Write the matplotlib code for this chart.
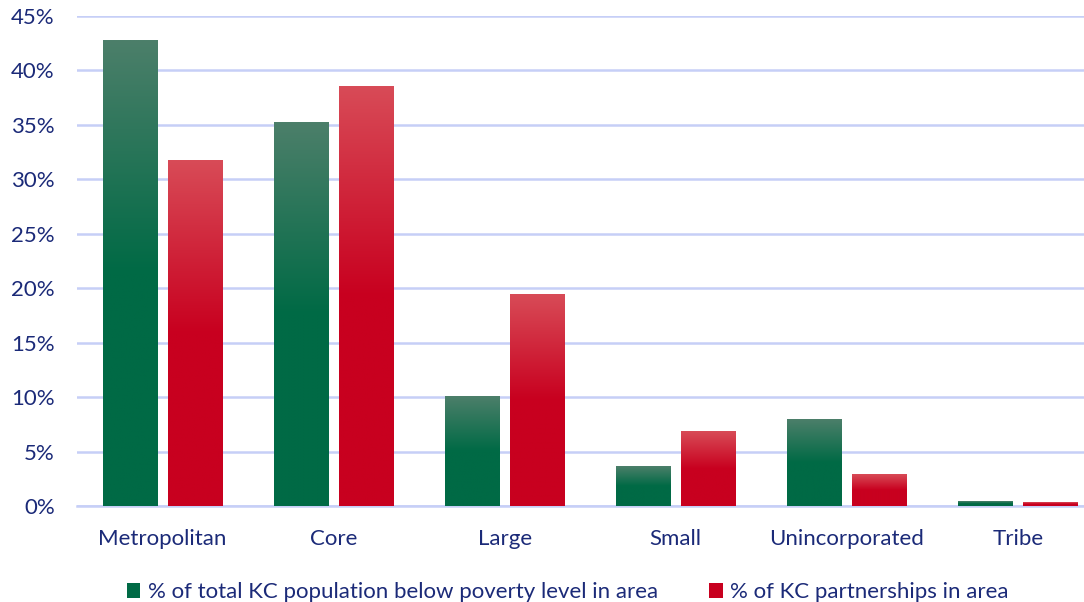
import numpy as np
import matplotlib
matplotlib.use("Agg")
import matplotlib.pyplot as plt
from matplotlib.colors import LinearSegmentedColormap
from matplotlib.patches import Patch

# data
categories = ["Metropolitan", "Core", "Large", "Small", "Unincorporated", "Tribe"]
poverty_pct = [42.7, 35.2, 10.0, 3.6, 7.9, 0.4]
partner_pct = [31.7, 38.5, 19.4, 6.8, 2.9, 0.35]
series_names = ["% of total KC population below poverty level in area",
                "% of KC partnerships in area"]
yticks = [0, 5, 10, 15, 20, 25, 30, 35, 40, 45]

text_col = "#1B2A78"
grid_col = "#C6CFF7"
green_top, green_base = "#4C7F6A", "#006A45"
red_top, red_base = "#D84B57", "#C8001F"

plt.rcParams['font.family'] = ['Lato', 'DejaVu Sans']

def gradient_bars(ax, xs, heights, width, top, base):
    """
    Draw bars with a vertical gradient (light top, solid lower half).
    """
    cmap = LinearSegmentedColormap.from_list(
        "g", [(0, base), (0.5, base), (1, top)])
    grad = np.linspace(0, 1, 256).reshape(-1, 1)
    bars = ax.bar(xs, heights, width, color="none", edgecolor="none", zorder=3)
    for b in bars:
        x0 = b.get_x()
        h = b.get_height()
        ax.imshow(grad, cmap=cmap, origin="lower", aspect="auto",
                  extent=(x0, x0 + width, 0, h), zorder=3,
                  interpolation="bilinear")
    return bars

fig = plt.figure(figsize=(10.84, 6.02), dpi=100)
# plot area runs past the right edge of the image, as in the original
ax = fig.add_axes([0.071, 0.159, 0.947, 0.815])

x = np.arange(len(categories))
w = 0.316
gradient_bars(ax, x - 0.19, poverty_pct, w, green_top, green_base)
gradient_bars(ax, x + 0.19, partner_pct, w, red_top, red_base)

ax.set_xlim(-0.5, len(categories) - 0.5)
ax.set_ylim(0, 45)
ax.set_yticks(yticks)
ax.set_yticklabels(["%d%%" % v for v in yticks])
ax.set_xticks(x)
ax.set_xticklabels(categories)
ax.tick_params(axis="both", length=0, labelsize=16, labelcolor=text_col)
ax.tick_params(axis="y", pad=16)
ax.tick_params(axis="x", pad=16)
ax.yaxis.grid(True, color=grid_col, linewidth=1.8, zorder=0)
ax.set_axisbelow(True)
for s in ["top", "right", "left"]:
    ax.spines[s].set_visible(False)
ax.spines["bottom"].set_color(grid_col)
ax.spines["bottom"].set_linewidth(1.8)

handles = [Patch(facecolor=green_base), Patch(facecolor=red_base)]
fig.legend(handles, series_names, loc="center", bbox_to_anchor=(0.524, 0.016),
           ncol=2, frameon=False, fontsize=16, labelcolor=text_col,
           handlelength=0.6, handleheight=0.6, handletextpad=0.35,
           columnspacing=2.3)

fig.savefig("out.png", dpi=100)
